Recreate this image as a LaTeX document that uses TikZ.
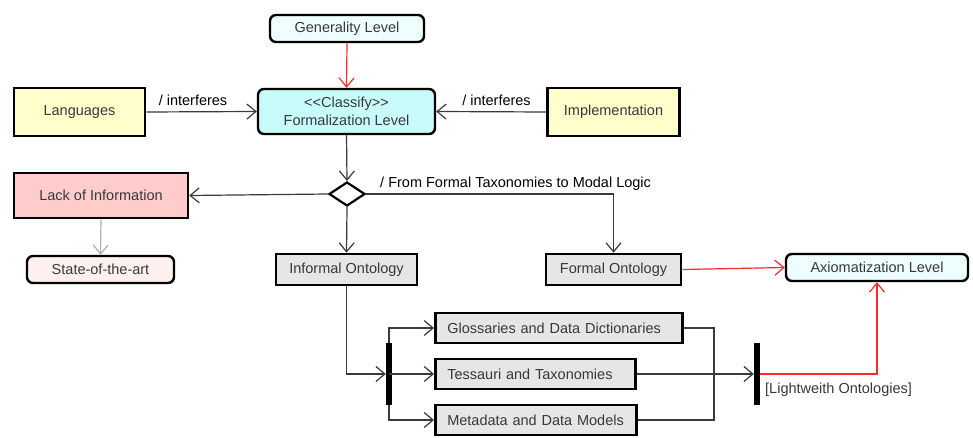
\documentclass[tikz,border=0pt]{standalone}
\usepackage{fontspec}
\setmainfont{Liberation Sans}
\usetikzlibrary{arrows.meta,shapes.geometric,calc}
\definecolor{txtgray}{HTML}{383838}
\definecolor{linegray}{HTML}{3A3A3A}
\definecolor{cyanlight}{HTML}{EEFEFE}
\definecolor{cyanmid}{HTML}{C8FCFC}
\definecolor{yellowbox}{HTML}{FFFFCC}
\definecolor{pinkbox}{HTML}{FFCCCC}
\definecolor{pinklight}{HTML}{FFF0F0}
\definecolor{graybox}{HTML}{E6E6E6}
\definecolor{redline}{HTML}{FF2A2A}
\definecolor{softgray}{HTML}{A8B4BA}
\tikzset{
  basebox/.style={draw=black, line width=2.6pt, text=txtgray, inner sep=0pt,
    font=\fontsize{14.5}{17.5}\selectfont},
  plainbox/.style={basebox, rectangle},
  roundbox/.style={basebox, rounded corners=6pt, line width=2.4pt},
  leftbox/.style={plainbox, align=left, anchor=west, inner xsep=12pt},
  forkbar/.style={fill=black, draw=none, minimum width=6pt, minimum height=62pt, inner sep=0pt},
  decision/.style={diamond, draw=black, line width=2.2pt, fill=white, inner sep=0pt,
    minimum width=36pt, minimum height=24pt},
  conn/.style={draw=linegray, line width=1.2pt, -{Straight Barb[length=9pt,width=15pt,line width=1.2pt]}},
  plainconn/.style={draw=linegray, line width=1.2pt},
  redconn/.style={conn, draw=redline},
  grayconn/.style={conn, draw=softgray},
  edgelabel/.style={font=\fontsize{14.5}{17.5}\selectfont, text=black, inner sep=0pt},
}
\begin{document}
\begin{tikzpicture}[x=1pt,y=-1pt]
\useasboundingbox (0,0) rectangle (973,438);

% top row
\node[roundbox, fill=cyanlight, minimum width=154pt, minimum height=27pt] (gen) at (347,28.5) {Generality Level};
\node[roundbox, fill=cyanmid, minimum width=177pt, minimum height=45pt, align=center] (form) at (346.5,111.5) {{<}{<}Classify{>}{>}\\Formalization Level};
\node[plainbox, fill=yellowbox, minimum width=131pt, minimum height=48pt] (lang) at (79.5,112) {Languages};
\node[plainbox, fill=yellowbox, minimum width=132pt, minimum height=48pt] (impl) at (613.5,112) {Implementation};

% decision
\node[decision] (dia) at (347,194) {};
\node[plainbox, fill=pinkbox, minimum width=174pt, minimum height=45pt] (lack) at (101,195.5) {Lack of Information};
\node[roundbox, fill=pinklight, minimum width=147pt, minimum height=27pt] (state) at (100.5,269.5) {State-of-the-art};

% ontologies
\node[plainbox, fill=graybox, minimum width=141pt, minimum height=31pt] (io) at (346.5,269.5) {Informal Ontology};
\node[plainbox, fill=graybox, minimum width=135pt, minimum height=31pt] (fo) at (613.5,269.5) {Formal Ontology};
\node[roundbox, fill=cyanlight, minimum width=182pt, minimum height=27pt] (ax) at (877,267.5) {Axiomatization Level};

% lightweight group
\node[forkbar] (bar1) at (389,374) {};
\node[leftbox, fill=graybox, text width=223pt, minimum height=30pt] (glos) at (434,328) {Glossaries and Data Dictionaries};
\node[leftbox, fill=graybox, text width=176pt, minimum height=30pt] (tess) at (434,374) {Tessauri and Taxonomies};
\node[leftbox, fill=graybox, text width=177pt, minimum height=30pt] (meta) at (434,420) {Metadata and Data Models};
\node[forkbar] (bar2) at (757,374) {};
\coordinate (join) at (714,374);
\coordinate (bend) at (877,374);

% connectors
\draw[redconn] (gen.south) -- (form.north);
\draw[conn] (lang.east) -- (form.west);
\draw[conn] (impl.west) -- (form.east);
\node[edgelabel] (lblL) at (193,100.5) {/ interferes};
\node[edgelabel] (lblR) at (496.5,100.5) {/ interferes};
\draw[conn] (form.south) -- (dia.north);
\draw[conn] (dia.west) -- (lack.east);
\draw[conn] (dia.east) -| (fo.north);
\node[edgelabel, anchor=west] (lblF) at (380,184) {/ From Formal Taxonomies to Modal Logic};
\draw[conn] (dia.south) -- (io.north);
\draw[grayconn] (lack.south) -- (state.north);
\draw[redconn] (fo.east) -- (ax.west);

\draw[conn] (io.south) |- (bar1.west);
\draw[conn] (bar1.north) |- (glos.west);
\draw[conn] (bar1.center) -- (tess.west);
\draw[conn] (bar1.south) |- (meta.west);

\draw[plainconn] (glos.east) -- (join |- glos.east) -- (join |- meta.east) -- (meta.east);
\draw[conn] (tess.east) -- (bar2.west);
\draw[redconn] (bar2.east) -- (bend) -- (ax.south);
\node[edgelabel, anchor=west, text=txtgray] (lblW) at (765,390) {[Lightweith Ontologies]};
\end{tikzpicture}
\end{document}
